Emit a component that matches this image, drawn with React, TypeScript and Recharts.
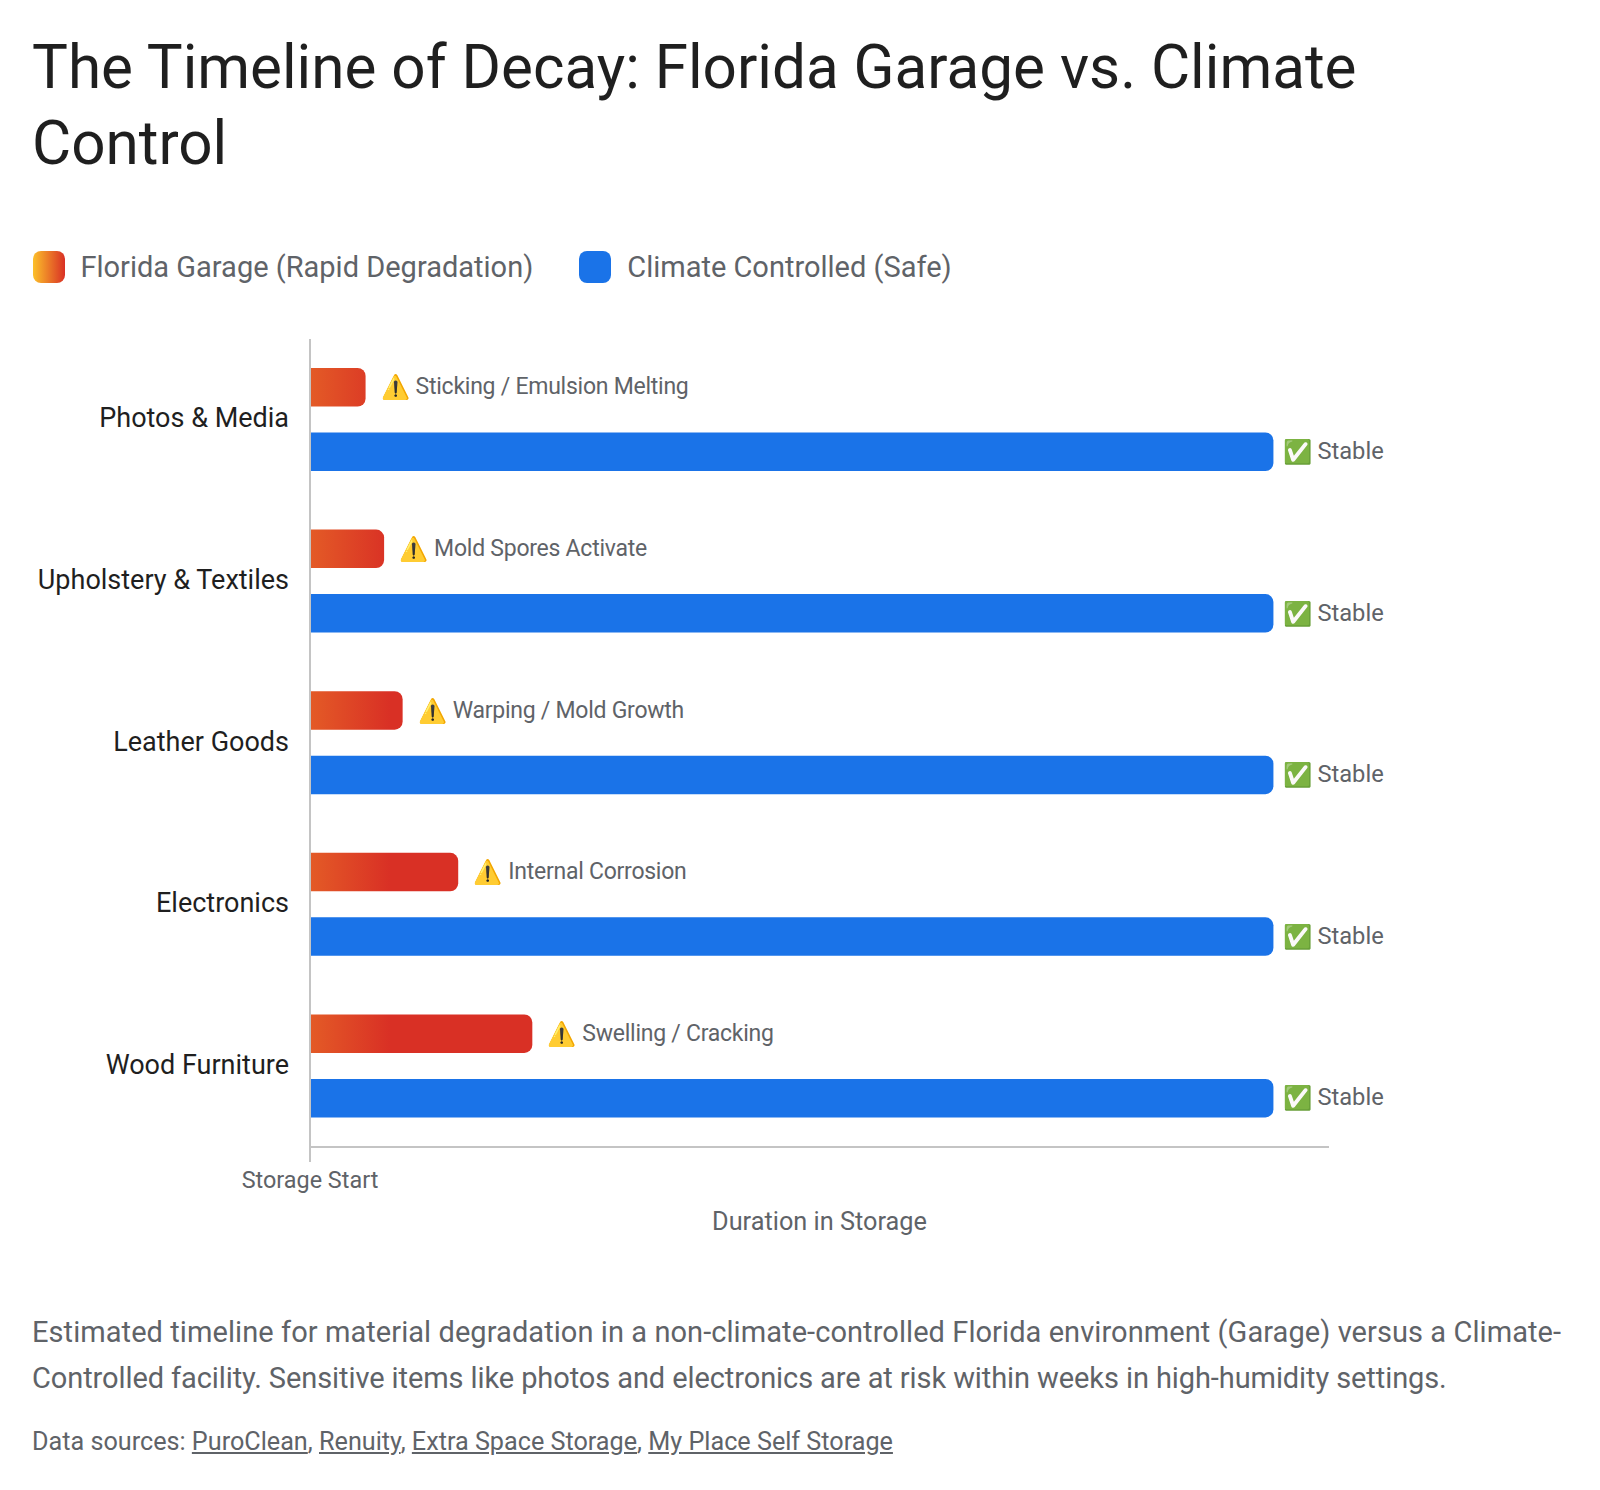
import React from "react"
import { Bar, BarChart, Label, LabelList, Legend, XAxis, YAxis } from "recharts"

const categories = ["Photos & Media", "Upholstery & Textiles", "Leather Goods", "Electronics", "Wood Furniture"]
const garageWeeks = [3, 4, 5, 8, 12]
const climateWeeks = [52, 52, 52, 52, 52]
const garageNotes = ["Sticking / Emulsion Melting", "Mold Spores Activate", "Warping / Mold Growth", "Internal Corrosion", "Swelling / Cracking"]
const climateNote = "Stable"
const sources = ["PuroClean", "Renuity", "Extra Space Storage", "My Place Self Storage"]

const chartData = categories.map((name, i) => ({
  name,
  garage: garageWeeks[i],
  climate: climateWeeks[i],
  note: garageNotes[i],
}))

const FONT = "Roboto, sans-serif"

function GarageNote(props: any) {
  const { x, y, width, height, index } = props
  const left = x + width + 15
  const mid = y + height / 2
  return (
    <g>
      <text x={left} y={mid} dy="0.35em" fontSize={23.5} fontFamily={FONT}>⚠️</text>
      <text x={left + 35} y={mid - 1} dy="0.35em" fontSize={23} letterSpacing={-0.25} fontFamily={FONT} fill="#5f6368">
        {garageNotes[index]}
      </text>
    </g>
  )
}

function ClimateNote(props: any) {
  const { x, y, width, height } = props
  const left = x + width + 10
  const mid = y + height / 2
  return (
    <g>
      <text x={left} y={mid} dy="0.35em" fontSize={23.5} fontFamily={FONT}>✅</text>
      <text x={left + 34} y={mid - 1} dy="0.35em" fontSize={23.7} fontFamily={FONT} fill="#5f6368">
        {climateNote}
      </text>
    </g>
  )
}

function LegendRow() {
  const item = (label: string, background: string) => (
    <div style={{ display: "flex", alignItems: "center", marginRight: 46 }}>
      <span style={{ width: 32, height: 32, borderRadius: 8, background, marginRight: 16 }} />
      <span>{label}</span>
    </div>
  )
  return (
    <div style={{ display: "flex", fontFamily: FONT, fontSize: 29, color: "#5f6368" }}>
      {item("Florida Garage (Rapid Degradation)", "linear-gradient(90deg, #fcc02a, #d93025)")}
      {item("Climate Controlled (Safe)", "#1a73e8")}
    </div>
  )
}

export default function App() {
  return (
    <div style={{ position: "relative", width: 1600, height: 1490, background: "#fff", fontFamily: FONT }}>
      <style>{"body{margin:0}"}</style>
      <div style={{ position: "absolute", left: 32, top: 30, width: 1500, fontSize: 60.2, lineHeight: "76px", color: "#1f1f1f" }}>
        The Timeline of Decay: Florida Garage vs. Climate Control
      </div>
      <div style={{ position: "absolute", left: 0, top: 0 }}>
        <BarChart
          width={1600}
          height={1260}
          data={chartData}
          layout="vertical"
          margin={{ top: 339, right: 271, bottom: 21, left: 0 }}
          barSize={38.5}
          barGap={26}
        >
          <defs>
            <linearGradient id="garageFill" gradientUnits="userSpaceOnUse" x1="120" y1="0" x2="390" y2="0">
              <stop offset="0%" stopColor="#fcc02a" />
              <stop offset="100%" stopColor="#d93025" />
            </linearGradient>
          </defs>
          <Legend
            content={<LegendRow />}
            wrapperStyle={{ position: "absolute", left: 32.5, top: 250, width: 1200, height: 32 }}
          />
          <XAxis
            type="number"
            domain={[0, 55]}
            ticks={[0]}
            tickFormatter={() => "Storage Start"}
            tick={{ fontSize: 23.4, fill: "#5f6368", fontFamily: FONT }}
            tickSize={15}
            tickMargin={9}
            stroke="#c4c4c4"
            strokeWidth={2}
            height={60}
          >
            <Label value="Duration in Storage" position="bottom" offset={0} dy={5.5} fontSize={25.3} fill="#5f6368" fontFamily={FONT} />
          </XAxis>
          <YAxis
            type="category"
            dataKey="name"
            width={310}
            tick={{ fontSize: 27, fill: "#1f1f1f", fontFamily: FONT, dy: -2 }}
            tickLine={false}
            tickMargin={15}
            stroke="#c4c4c4"
            strokeWidth={2}
          />
          <Bar dataKey="garage" fill="url(#garageFill)" radius={[0, 8, 8, 0]} isAnimationActive={false}>
            <LabelList dataKey="note" content={<GarageNote />} />
          </Bar>
          <Bar dataKey="climate" fill="#1a73e8" radius={[0, 8, 8, 0]} isAnimationActive={false}>
            <LabelList dataKey="climate" content={<ClimateNote />} />
          </Bar>
        </BarChart>
      </div>
      <div style={{ position: "absolute", left: 32, top: 1309, width: 1560, fontSize: 29, lineHeight: "46px", color: "#5f6368" }}>
        <div style={{ letterSpacing: 0.07 }}>
          Estimated timeline for material degradation in a non-climate-controlled Florida environment (Garage) versus a Climate-
        </div>
        <div style={{ letterSpacing: -0.09 }}>
          Controlled facility. Sensitive items like photos and electronics are at risk within weeks in high-humidity settings.
        </div>
      </div>
      <div style={{ position: "absolute", left: 32, top: 1427, fontSize: 25.2, color: "#5f6368" }}>
        Data sources:{" "}
        {sources.map((s, i) => (
          <span key={s}>
            <u>{s}</u>
            {i < sources.length - 1 ? ", " : ""}
          </span>
        ))}
      </div>
    </div>
  )
}
